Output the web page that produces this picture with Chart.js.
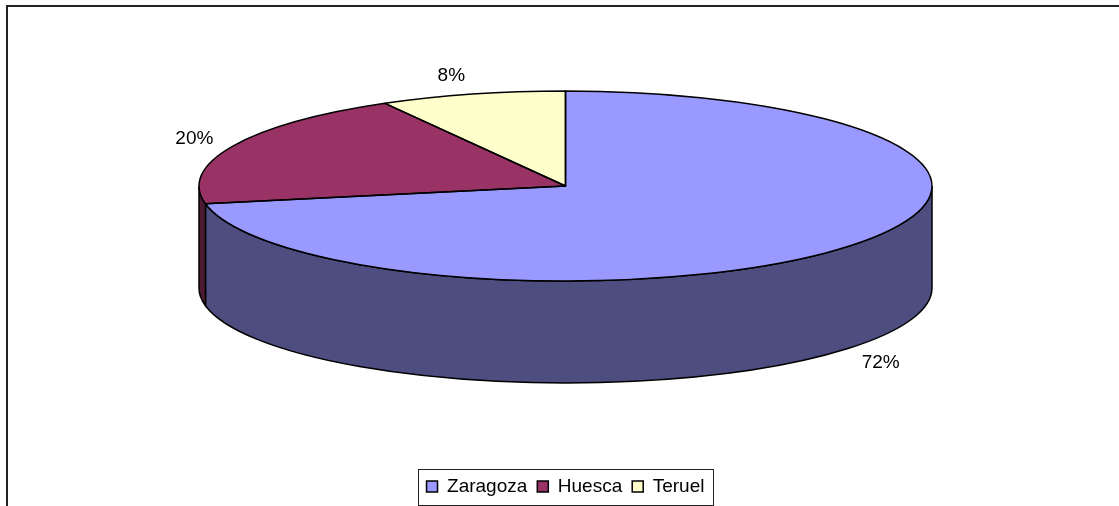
<!DOCTYPE html>
<html>
<head>
<meta charset="utf-8">
<title>Zaragoza Huesca Teruel</title>
<script src="https://cdn.jsdelivr.net/npm/chart.js@4/dist/chart.umd.min.js"></script>
<style>
    html, body { margin: 0; padding: 0; background: #fff; overflow: hidden; }
    canvas { display: block; }
</style>
</head>
<body>
<canvas id="myChart" width="1119" height="506"></canvas>
<script>
const categories = ['Zaragoza', 'Huesca', 'Teruel'];
const values = [72, 19.8, 8.2];
const topColors = ['#9999FF', '#993366', '#FFFFCC'];
const sideColors = ['#4D4D80', '#4D1A33', '#80805C'];

const labelFont = '19px "Liberation Sans", Arial, sans-serif';

// tamaño de la elipse en pantalla
const pieX = 565.5;
const pieY = 186;
const radiusX = 366.5;
const radiusY = 95;
const depth = 102;

const ctx = document.getElementById("myChart");

// el pie de Chart.js es redondo, se aplasta con una transformacion
const pie3d = {
    id: 'pie3d',
    beforeDraw(chart) {
        const c = chart.ctx;
        c.save();
        c.strokeStyle = '#222';
        c.lineWidth = 2;
        c.beginPath();
        c.moveTo(7, 506);
        c.lineTo(7, 6);
        c.lineTo(1119, 6);
        c.stroke();
        c.restore();
    },
    beforeDatasetsDraw(chart) {
        const c = chart.ctx;
        const arcs = chart.getDatasetMeta(0).data;

        // lado del cilindro, solo la mitad de abajo
        c.save();
        c.strokeStyle = '#000';
        c.lineWidth = 1.5;
        arcs.forEach((arc, i) => {
            const a0 = Math.max(arc.startAngle, 0);
            const a1 = Math.min(arc.endAngle, Math.PI);
            if (a1 <= a0) return;
            c.beginPath();
            c.ellipse(pieX, pieY, radiusX, radiusY, 0, a0, a1);
            c.ellipse(pieX, pieY + depth, radiusX, radiusY, 0, a1, a0, true);
            c.closePath();
            c.fillStyle = sideColors[i];
            c.fill();
            c.stroke();
        });
        c.restore();

        const arc = arcs[0];
        c.save();
        c.translate(pieX, pieY);
        c.scale(radiusX / arc.outerRadius, radiusY / arc.outerRadius);
        c.translate(-arc.x, -arc.y);
    },
    afterDatasetsDraw(chart) {
        const c = chart.ctx;
        c.restore();

        const arcs = chart.getDatasetMeta(0).data;
        c.save();
        c.strokeStyle = '#000';
        c.lineWidth = 1.5;
        c.lineJoin = 'round';
        arcs.forEach(arc => {
            c.beginPath();
            c.moveTo(pieX, pieY);
            c.ellipse(pieX, pieY, radiusX, radiusY, 0, arc.startAngle, arc.endAngle);
            c.closePath();
            c.stroke();
        });

        // etiquetas de porcentaje
        c.font = labelFont;
        c.fillStyle = '#000';
        c.textAlign = 'center';
        c.textBaseline = 'middle';
        arcs.forEach((arc, i) => {
            const mid = (arc.startAngle + arc.endAngle) / 2;
            let x = pieX + 409 * Math.cos(mid);
            let y = pieY + 115 * Math.sin(mid) + 1;
            if (Math.sin(mid) > 0) y += depth;
            if (i === 2) x -= 10;
            c.fillText(Math.round(values[i]) + '%', x, y);
        });
        c.restore();
    },
    afterDraw(chart) {
        // marco de la leyenda
        const boxes = chart.legend.legendHitBoxes;
        const first = boxes[0];
        const last = boxes[boxes.length - 1];
        const c = chart.ctx;
        c.save();
        c.strokeStyle = '#222';
        c.lineWidth = 1;
        c.strokeRect(Math.round(first.left) - 8.5, 469.5, Math.round(last.left + last.width - first.left) + 17, 36);
        c.restore();
    }
};

new Chart(ctx, {
    type: 'pie',
    data: {
        labels: categories,
        datasets: [{
            data: values,
            backgroundColor: topColors,
            borderWidth: 0,
            radius: 400,
            clip: false
        }]
    },
    options: {
        responsive: false,
        animation: false,
        layout: { padding: { left: 12 } },
        plugins: {
            tooltip: { enabled: false },
            legend: {
                position: 'bottom',
                labels: {
                    boxWidth: 11,
                    boxHeight: 11,
                    padding: 10,
                    color: '#000',
                    font: { family: '"Liberation Sans", Arial, sans-serif', size: 19 },
                    generateLabels(chart) {
                        return categories.map((name, i) => ({
                            text: name,
                            fillStyle: topColors[i],
                            strokeStyle: '#000',
                            lineWidth: 1.5,
                            index: i
                        }));
                    }
                }
            }
        }
    },
    plugins: [pie3d]
});
</script>
</body>
</html>
